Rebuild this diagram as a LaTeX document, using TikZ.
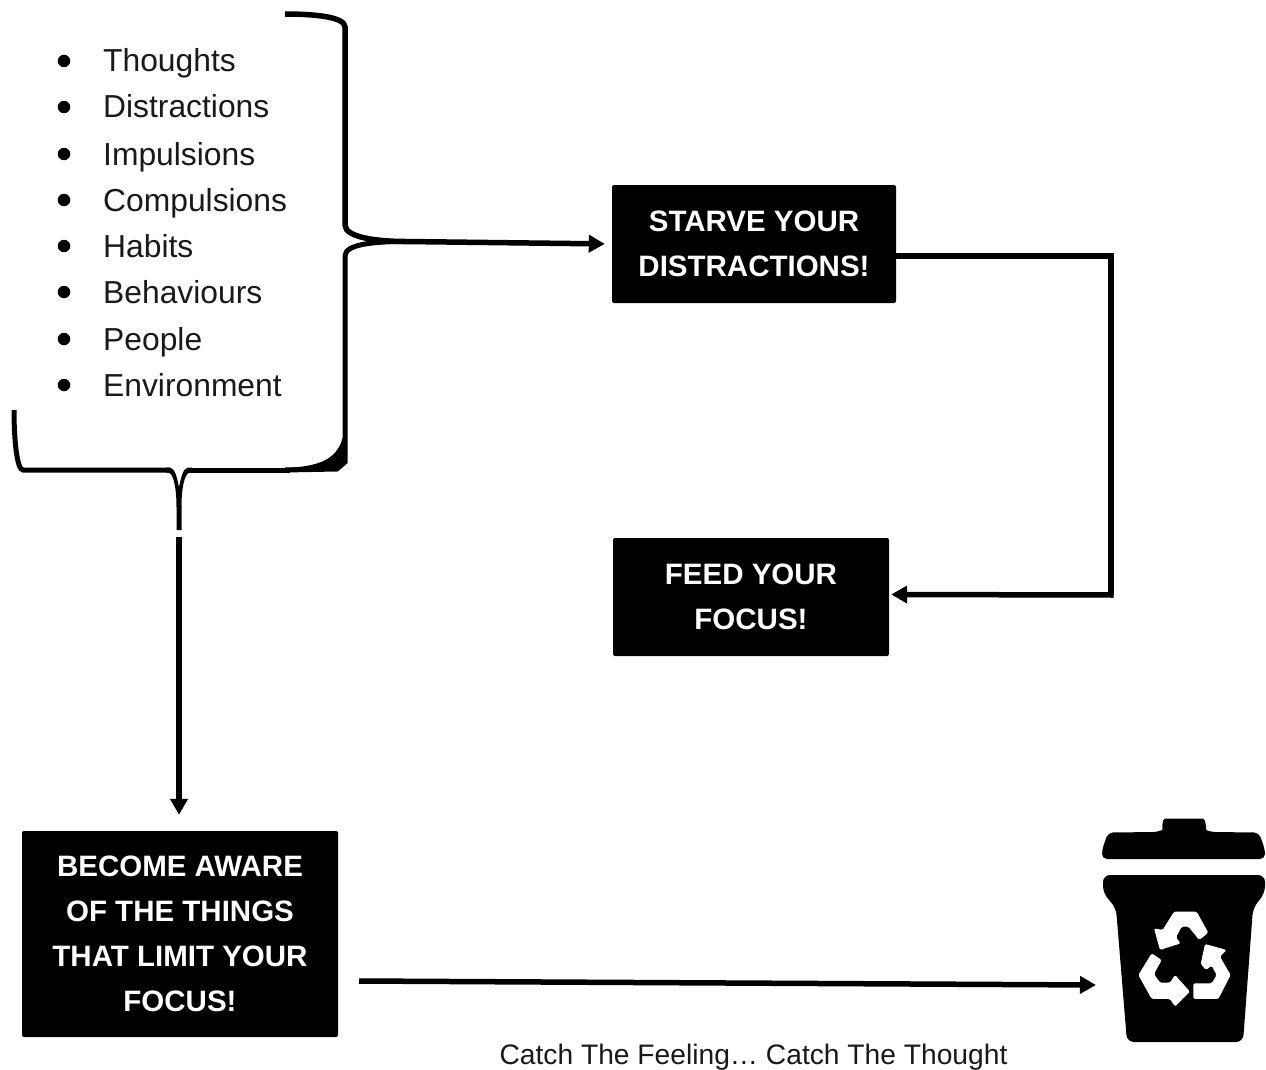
\documentclass[tikz,border=0pt]{standalone}
\usepackage{fontspec}
\setmainfont{Liberation Sans}
\usetikzlibrary{arrows.meta}
\tikzset{
  px/.style={x=1pt,y=-1pt},
  blackbox/.style={fill=black,rounded corners=2pt,inner sep=0pt,text=white,align=center,
    font=\fontsize{29.5}{45}\selectfont\bfseries},
  item/.style={anchor=base west,inner sep=0pt,font=\fontsize{31.8}{38}\selectfont,text=black!90},
  bulletdot/.style={circle,fill=black,inner sep=0pt,minimum size=12.5pt},
  conn/.style={draw=black,line width=5.5pt},
  arrowline/.style={conn,-{Triangle[length=16pt,width=17pt]}},
  caption/.style={anchor=base,inner sep=0pt,font=\fontsize{28.2}{36}\selectfont,text=black!90},
}
\begin{document}
\begin{tikzpicture}[px]
\useasboundingbox (0,0) rectangle (1266,1070);
% list
\foreach \n/\t/\y in {a/Thoughts/72,b/Distractions/118,c/Impulsions/165,d/Compulsions/211,e/Habits/257,f/Behaviours/303,g/People/350,h/Environment/396}{
  \node[item] (item\n) at (103,\y) {\t};
  \node[bulletdot] (dot\n) at (64,\y-11) {};
}
% boxes
\node[blackbox,minimum width=284pt,minimum height=118pt] (starve) at (754,244) {\raisebox{1.5pt}{STARVE YOUR}\\\raisebox{1.5pt}{DISTRACTIONS!}};
\node[blackbox,minimum width=276pt,minimum height=118pt] (feed) at (751,597) {\raisebox{1.5pt}{FEED YOUR}\\\raisebox{1.5pt}{FOCUS!}};
\node[blackbox,minimum width=316pt,minimum height=206pt] (aware) at (180,934) {\raisebox{1pt}{BECOME AWARE}\\\raisebox{1pt}{OF THE THINGS}\\\raisebox{1pt}{THAT LIMIT YOUR}\\\raisebox{1pt}{FOCUS!}};
\node[caption] (cap) at (753.5,1064) {Catch The Feeling… Catch The Thought};
% connector helpers
\coordinate (bracetip) at (405,241.5);
\coordinate (downstart) at (179,537);
\coordinate (bintip) at (1096,985);
\coordinate (binstart) at (359,981);
\coordinate (cornerA) at (1111,256);
\coordinate (cornerB) at (1111,595);
% right brace upper and lower
\draw[conn] (285,14) .. controls (315,14) and (345,17) .. (345,27) -- (345,225)
  .. controls (345,238) and (380,241.5) .. (bracetip);
\draw[conn,line width=5pt] (bracetip) .. controls (375,241.5) and (345,244) .. (345,256) -- (345,435)
  -- (345,462) -- (337,469) -- (285,470);
\fill[black] (345,420) .. controls (344,458) and (325,466) .. (285,468) -- (337,470) -- (345,462) -- cycle;
% bottom brace
\draw[conn,line width=5pt] (14,410) .. controls (14,440) and (17,470) .. (23,470) -- (170,470);
\draw[conn,line width=5pt] (188,470) -- (290,470);
\fill[black] (166,467.5) -- (170,467.5) .. controls (175,468) and (177,478) .. (179,487)
  .. controls (181,478) and (183,468) .. (188,467.5) -- (192,467.5) -- (192,472.5) -- (190,472.5)
  .. controls (184,473) and (181.5,490) .. (181.5,507) -- (181.5,530) -- (176.5,530) -- (176.5,507)
  .. controls (176.5,490) and (174,473) .. (168,472.5) -- (166,472.5) -- cycle;
% connectors
\draw[arrowline,shorten >=7pt] (bracetip) -- (starve.west);
\draw[arrowline,shorten >=16pt] (downstart) -- (aware.north -| downstart);
\draw[conn] (starve.east |- cornerA) -- (cornerA) -- (cornerB);
\draw[arrowline,shorten >=2pt] (1113.5,595) -- (feed.east |- 0,594.5);
\draw[arrowline] (binstart) -- (bintip);
% bin
\fill[black,rounded corners=5pt] (1102,859) -- (1102,850) -- (1108,832.5) -- (1158,832) .. controls (1162,830) and (1162,818.5) .. (1170,818.5) -- (1198,818.5) .. controls (1206,818.5) and (1206,830) .. (1211,832) -- (1259,832.5) -- (1265,850) -- (1265,859) -- cycle;
\fill[black,rounded corners=7pt] (1103,875) -- (1265,875) -- (1265,893) -- (1253,908) -- (1243,1042) -- (1127,1042) -- (1116,908) -- (1103,893) -- cycle;
% recycling arrows
\begin{scope}[shift={(1080,800)},x=0.3333pt,y=-0.3333pt]
\fill[white,rounded corners=1.5pt]
 (385,398) -- (358,420) -- (325,380) -- (305,380) -- (288,412) -- (302,430) -- (240,450) -- (222,385) -- (248,390) -- (282,335) -- (350,335) -- cycle;
\fill[white,rounded corners=1.5pt]
 (375,432) -- (440,450) -- (420,470) -- (452,525) -- (415,597) -- (340,597) -- (340,550) -- (395,550) -- (410,525) -- (395,497) -- (378,510) -- (362,492) -- cycle;
\fill[white,rounded corners=1.5pt]
 (215,460) -- (245,480) -- (222,522) -- (240,548) -- (270,548) -- (285,525) -- (330,575) -- (285,620) -- (270,597) -- (215,597) -- (175,525) -- cycle;
\end{scope}
\end{tikzpicture}
\end{document}
